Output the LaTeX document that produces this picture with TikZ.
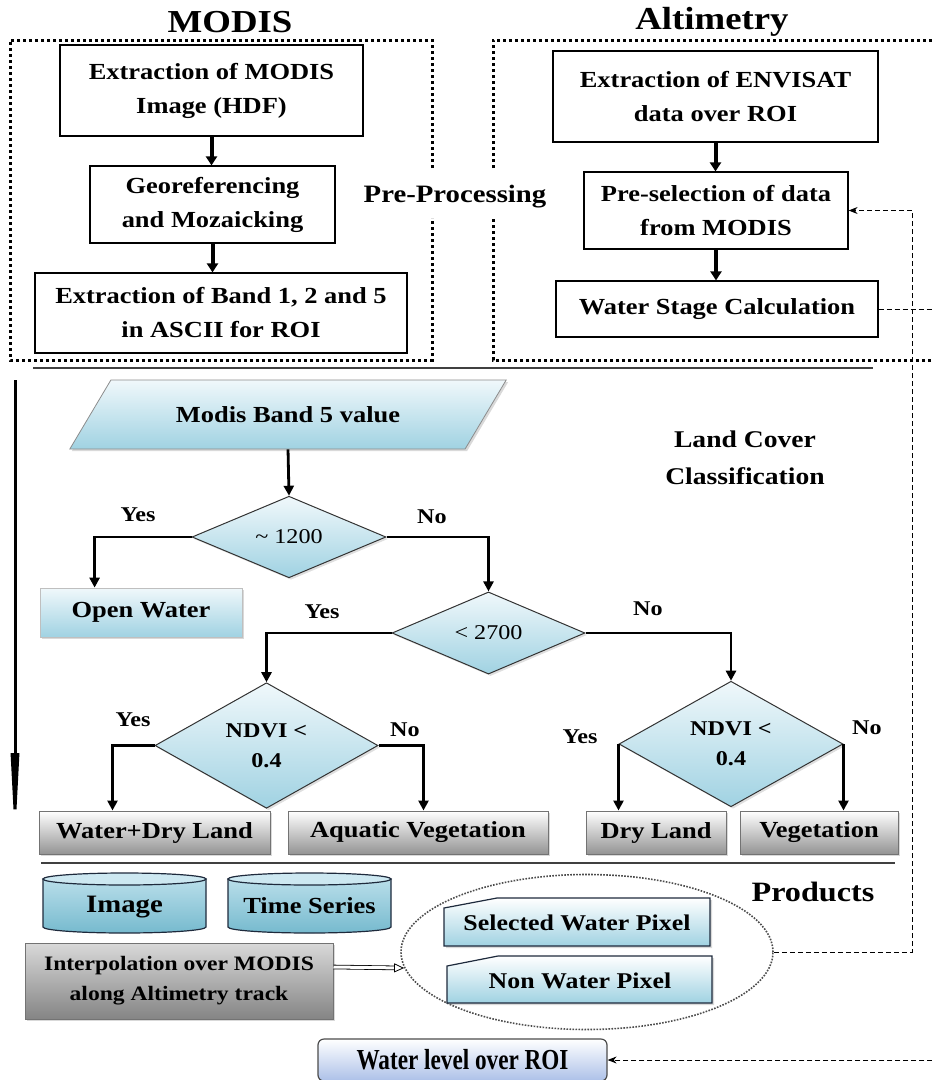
\documentclass[tikz,border=0pt]{standalone}
\usepackage{fontspec}
\setmainfont{Liberation Serif}[FakeStretch=1.15]
\newfontfamily\condfont{Liberation Serif}[FakeStretch=0.8]
\usetikzlibrary{shapes.geometric,arrows.meta,shadows,calc}
\definecolor{lb}{RGB}{160,210,226}
\definecolor{lbl}{RGB}{240,248,251}
\definecolor{cylA}{RGB}{185,222,234}
\definecolor{cylB}{RGB}{118,186,206}
\definecolor{cylT}{RGB}{205,232,241}
\definecolor{wlb}{RGB}{172,192,232}
\definecolor{navy}{RGB}{30,42,60}
\begin{document}
\begin{tikzpicture}[x=1pt,y=-1pt,
  box/.style={draw=black, line width=1.2pt, fill=white, align=center, inner sep=0pt,
    font=\fontsize{23}{34}\selectfont\bfseries},
  gbox/.style={draw=black!55, line width=1pt, top color=white, bottom color=black!42, inner sep=0pt,
    font=\fontsize{23}{26}\selectfont\bfseries, drop shadow={opacity=0.3,shadow xshift=2pt,shadow yshift=-2pt}},
  lbox/.style={draw=black!25, line width=0.8pt, top color=lbl, bottom color=lb, inner sep=0pt,
    font=\fontsize{23}{26}\selectfont\bfseries, drop shadow={opacity=0.3,shadow xshift=2pt,shadow yshift=-2pt}},
  dia/.style={diamond, draw=black!80, line width=1pt, top color=lbl, bottom color=lb, inner sep=0pt, align=center,
    drop shadow={opacity=0.25,shadow xshift=2pt,shadow yshift=-2pt}},
  lab/.style={font=\fontsize{21}{24}\selectfont\bfseries},
  bigarrow/.style={line width=4pt, -{Triangle[length=9pt,width=11pt]}},
  flow/.style={line width=2.8pt, -{Triangle[length=10pt,width=10pt]}},
  dashline/.style={line width=1pt, dash pattern=on 5pt off 3pt},
  framedot/.style={line width=3pt, dash pattern=on 3pt off 3pt},
  cylbody/.style={draw=navy, line width=1.2pt, top color=cylA, bottom color=cylB},
  cyltop/.style={draw=navy, line width=1.2pt, fill=cylT},
  title/.style={font=\fontsize{32}{36}\selectfont\bfseries},
  head/.style={font=\fontsize{24}{37}\selectfont\bfseries, align=center}
]
\useasboundingbox (0,0) rectangle (932,1080);

% ---------- Pre-processing frames ----------
\draw[framedot] (432,168) -- (432,40) -- (10,40) -- (10,360) -- (432,360) -- (432,218);
\draw[framedot] (493,168) -- (493,40) -- (950,40) -- (950,360) -- (493,360) -- (493,217);
\node[title] (tmodis) at (230,22) {MODIS};
\node[title] (talt) at (712,22) {Altimetry};
\node[head, font=\fontsize{25}{30}\selectfont\bfseries] (tpre) at (455,197) {Pre-Processing};

% MODIS column
\node[box, minimum width=303pt, minimum height=91pt] (b1) at (211.5,90.5) {Extraction of MODIS\\Image (HDF)};
\node[box, minimum width=245pt, minimum height=77pt] (b2) at (212.5,204.5) {Georeferencing\\and Mozaicking};
\node[box, minimum width=372pt, minimum height=80pt] (b3) at (221,313) {Extraction of Band 1, 2 and 5\\in ASCII for ROI};
\draw[bigarrow] (b1.south) -- (b1.south |- b2.north);
\draw[bigarrow] (b2.south) -- (b2.south |- b3.north);

% Altimetry column
\node[box, minimum width=325pt, minimum height=91pt] (r1) at (715.5,96.5) {Extraction of ENVISAT\\data over ROI};
\node[box, minimum width=264pt, minimum height=77pt] (r2) at (716,210.5) {Pre-selection of data\\from MODIS};
\node[box, minimum width=322pt, minimum height=56pt] (r3) at (717,309) {Water Stage Calculation};
\draw[bigarrow] (r1.south) -- (r1.south |- r2.north);
\draw[bigarrow] (r2.south) -- (r2.south |- r3.north);

% separators
\draw[line width=1.5pt, black!75] (33,368) -- (873,368);
\draw[line width=1.5pt, black!75] (41,863) -- (895,863);

% long process arrow
\coordinate (lt) at (15,380);
\coordinate (lbot) at (15,843);
\draw[line width=3pt, -{Triangle[length=90pt,width=8pt]}] (lt) -- (lbot);

% ---------- Land cover classification ----------
\node[head] (tlc) at (745,458) {Land Cover\\Classification};

\node[trapezium, trapezium left angle=32, trapezium right angle=148, trapezium stretches=true,
  minimum width=437pt, minimum height=69pt, inner sep=0pt, draw=black!45, line width=0.8pt,
  top color=lbl, bottom color=lb, font=\fontsize{23}{26}\selectfont\bfseries,
  drop shadow={opacity=0.3,shadow xshift=2pt,shadow yshift=-2pt}] (band) at (288,414.5) {Modis Band 5 value};

\node[dia, minimum width=194pt, minimum height=80pt, font=\fontsize{21}{26}\selectfont] (d1) at (289,537) {\textasciitilde\ 1200};
\node[dia, minimum width=193pt, minimum height=80pt, font=\fontsize{21}{26}\selectfont] (d2) at (488.5,633) {< 2700};
\node[dia, minimum width=223pt, minimum height=113pt, font=\fontsize{21}{30}\selectfont\bfseries] (d3) at (266.5,745.5) {NDVI <\\0.4};
\node[dia, minimum width=224pt, minimum height=112pt, font=\fontsize{21}{30}\selectfont\bfseries] (d4) at (731,744) {NDVI <\\0.4};

\node[lbox, minimum width=202pt, minimum height=49pt] (ow) at (141,612.5) {Open Water};
\node[gbox, minimum width=231pt, minimum height=43pt] (wdl) at (154.5,832.5) {Water+Dry Land};
\node[gbox, minimum width=260pt, minimum height=43pt] (av) at (418,832.5) {Aquatic Vegetation};
\node[gbox, minimum width=140pt, minimum height=43pt] (dl) at (656,832.5) {Dry Land};
\node[gbox, minimum width=158pt, minimum height=43pt] (veg) at (819,832.5) {Vegetation};

\draw[flow] (band.south) -- (d1.north);
\draw[flow] (d1.west) -| ([xshift=55pt]ow.north west);
\draw[flow] (d1.east) -| (d2.north);
\draw[flow] (d2.west) -| (d3.north);
\draw[flow] (d2.east) -| (d4.north);
\draw[flow] (d3.west) -| ([xshift=74pt]wdl.north west);
\draw[flow] (d3.east) -| ([xshift=136pt]av.north west);
\draw[flow] (d4.west) -- (d4.west |- dl.north);
\draw[flow] (d4.east) -- (d4.east |- veg.north);

\node[lab] (y1) at (138,515) {Yes};
\node[lab] (n1) at (432,517) {No};
\node[lab] (y2) at (322,612) {Yes};
\node[lab] (n2) at (648,609) {No};
\node[lab] (y3) at (133,720) {Yes};
\node[lab] (n3) at (405,730) {No};
\node[lab] (y4) at (580,737) {Yes};
\node[lab] (n4) at (867,728) {No};

% ---------- Products ----------
\node[font=\fontsize{28}{32}\selectfont\bfseries] (tprod) at (813,892) {Products};

% cylinders
\draw[cylbody] (43,879) -- (43,927) arc[start angle=180,end angle=360,x radius=81.5pt,y radius=6pt] -- (206,879) -- cycle;
\draw[cyltop] (124.5,879) ellipse[x radius=81.5pt, y radius=6pt];
\node[font=\fontsize{25}{30}\selectfont\bfseries] (img) at (124.5,907) {Image};
\draw[cylbody] (228,879) -- (228,927) arc[start angle=180,end angle=360,x radius=81.5pt,y radius=6pt] -- (391,879) -- cycle;
\draw[cyltop] (309.5,879) ellipse[x radius=81.5pt, y radius=6pt];
\node[font=\fontsize{23}{26}\selectfont\bfseries] (ts) at (309.5,906) {Time Series};

\node[draw=black!55, line width=1pt, top color=black!15, bottom color=black!48, inner sep=0pt, align=center,
  minimum width=308pt, minimum height=76pt, font=\fontsize{20.5}{30}\selectfont\bfseries,
  drop shadow={opacity=0.3,shadow xshift=2pt,shadow yshift=-2pt}] (interp) at (179,981)
  {Interpolation over MODIS\\along Altimetry track};

\node[ellipse, draw=black!70, line width=1.6pt, dash pattern=on 1.6pt off 1.4pt,
  minimum width=372pt, minimum height=155pt] (ell) at (587,952) {};

\draw[draw=navy, line width=1.2pt, top color=white, bottom color=lb,
  drop shadow={opacity=0.3,shadow xshift=2pt,shadow yshift=-2pt}]
  (444,908) -- (497,898) -- (710,898) -- (710,946) -- (444,946) -- cycle;
\node[font=\fontsize{22.5}{26}\selectfont\bfseries] (swp) at (577,923) {Selected Water Pixel};
\draw[draw=navy, line width=1.2pt, top color=white, bottom color=lb,
  drop shadow={opacity=0.3,shadow xshift=2pt,shadow yshift=-2pt}]
  (447,966) -- (498,956) -- (712,956) -- (712,1003) -- (447,1003) -- cycle;
\node[font=\fontsize{22.5}{26}\selectfont\bfseries] (nwp) at (580,981) {Non Water Pixel};

\draw[double=white, double distance=3pt, line width=0.8pt, -{Triangle[open,length=10pt,width=9pt]}]
  ([yshift=14pt]interp.east) -- (ell.185);

\node[draw=black!70, line width=1.2pt, rounded corners=6pt, top color=white, bottom color=wlb,
  minimum width=289pt, minimum height=42pt, inner sep=0pt, font=\condfont\fontsize{29}{32}\selectfont\bfseries] (wl) at (462.5,1060) {Water level over ROI};

% ---------- dashed feedback connectors ----------
\coordinate (vx) at (912,600);
\draw[dashline, -{Stealth[length=9pt,width=7pt]}] (ell.east) -- (ell.east -| vx) -- (vx |- r2.east) -- (r2.east);
\coordinate (ox) at (950,600);
\draw[dashline, -{Stealth[length=9pt,width=7pt]}] (r3.east) -- (r3.east -| ox) -- (ox |- wl.east) -- (wl.east);
\end{tikzpicture}
\end{document}
